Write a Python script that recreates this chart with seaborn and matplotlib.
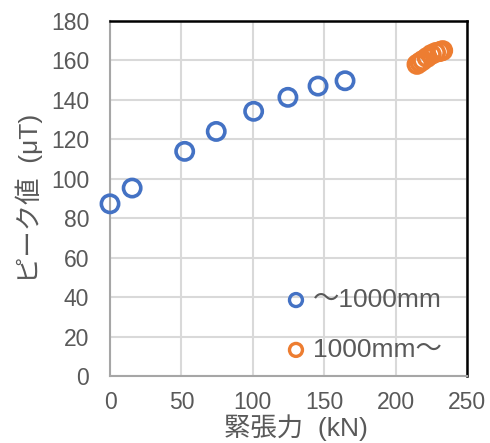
import matplotlib
matplotlib.use("Agg")
import matplotlib.pyplot as plt
import seaborn as sns
import pandas as pd

# data
x_short = [0, 15.5, 52.3, 74.4, 100.6, 124.6, 145.7, 164.6]
y_short = [87.3, 95.3, 113.9, 124.0, 134.2, 141.3, 147.0, 149.7]
x_long = [215, 217, 219, 222, 225, 228, 231, 233]
y_long = [158, 159, 160, 161.5, 163, 164, 164.5, 165]
labels = ["～1000mm", "1000mm～"]
colors = ["#4472C4", "#ED7D31"]
xticks = [0, 50, 100, 150, 200, 250]
yticks = [0, 20, 40, 60, 80, 100, 120, 140, 160, 180]

sns.set_style("white")
fam = ['Liberation Sans', 'Noto Sans CJK JP', 'DejaVu Sans']
plt.rcParams['font.family'] = fam
tc = "#595959"

fig = plt.figure(figsize=(4.9, 4.43), dpi=100)
ax = fig.add_axes([0.2245, 0.1512, 0.953 - 0.2245, 0.9526 - 0.1512])

for xs, ys, lab, col in [(x_short, y_short, labels[0], colors[0]),
                         (x_long, y_long, labels[1], colors[1])]:
    df = pd.DataFrame({"x": xs, "y": ys})
    sns.scatterplot(data=df, x="x", y="y", ax=ax, s=155, marker="o",
                    color=col, edgecolor=col, linewidth=2.6, label=lab, zorder=3,
                    clip_on=False)

for coll in ax.collections:
    coll.set_facecolor("none")

ax.set_xlim(0, 250)
ax.set_ylim(0, 180)
ax.set_xticks(xticks)
ax.set_yticks(yticks)
ax.grid(True, color="#D9D9D9", linewidth=1.5, zorder=0)
ax.set_axisbelow(True)
ax.tick_params(axis="y", labelsize=16.5, colors=tc, length=0, pad=15)
ax.tick_params(axis="x", labelsize=16.5, colors=tc, length=0, pad=11)

for s in ["left", "bottom"]:
    ax.spines[s].set_color("#A6A6A6")
    ax.spines[s].set_linewidth(1.5)
for s in ["top", "right"]:
    ax.spines[s].set_color("black")
    ax.spines[s].set_linewidth(1.8)

ax.set_xlabel("緊張力  (kN)", fontsize=19, color=tc, family=fam)
ax.xaxis.set_label_coords(0.521, -0.108)
ax.xaxis.label.set_va("top")
ax.set_ylabel("ピーク値  (μT)", fontsize=19, color=tc, labelpad=6, family=fam)

leg = ax.legend(loc="upper left", bbox_to_anchor=(0.484, 0.248), frameon=False,
                labelspacing=0.98, handletextpad=0.15, handlelength=1.0,
                markerscale=0.75, borderpad=0, borderaxespad=0,
                prop={'family': fam, 'size': 19})
for t in leg.get_texts():
    t.set_color(tc)
for h in leg.legend_handles:
    h.set_facecolor("none")
    h.set_linewidth(2.4)

fig.savefig("out.png", dpi=100)
